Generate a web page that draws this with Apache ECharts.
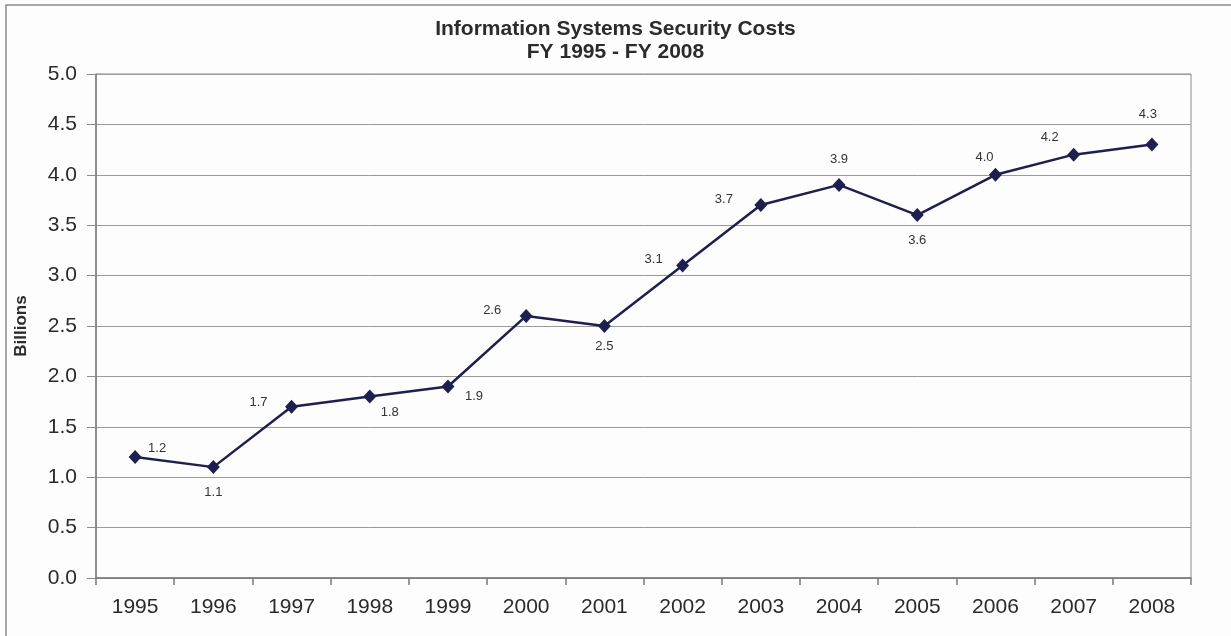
<!DOCTYPE html>
<html>
<head>
<meta charset="utf-8">
<title>Information Systems Security Costs</title>
<script src="https://cdn.jsdelivr.net/npm/echarts@6/dist/echarts.min.js"></script>
<style>
  html, body { margin: 0; padding: 0; background: #fdfdfd; }
  #chart { width: 1231px; height: 636px; }
</style>
</head>
<body>
<div id="chart"></div>
<script>
// Fiscal years and security costs (billions of dollars)
const years = ['1995', '1996', '1997', '1998', '1999', '2000', '2001',
               '2002', '2003', '2004', '2005', '2006', '2007', '2008'];
const costs = [1.2, 1.1, 1.7, 1.8, 1.9, 2.6, 2.5, 3.1, 3.7, 3.9, 3.6, 4.0, 4.2, 4.3];

// Where each value label sits relative to its marker, in pixels [dx, dy]
const labelOffsets = [
  [22, -9], [0, 25], [-33, -4], [20, 16], [26, 10], [-34, -5], [0, 20],
  [-29, -6], [-37, -6], [0, -25], [0, 25], [-11, -17], [-24, -17], [-4, -30]
];

const FONT = '"Liberation Sans", Arial, sans-serif';
const chart = echarts.init(document.getElementById('chart'), null, { renderer: 'canvas' });

chart.setOption({
  backgroundColor: '#fdfdfd',
  animation: false,
  title: {
    text: 'Information Systems Security Costs\nFY 1995 - FY 2008',
    left: 'center',
    top: 13,
    textStyle: {
      fontFamily: FONT,
      fontSize: 21,
      fontWeight: 'bold',
      color: '#2b2b2b',
      lineHeight: 23
    }
  },
  graphic: [{
    // outer frame around the chart (top and left edges visible)
    type: 'rect',
    shape: { x: 6, y: 5, width: 1240, height: 650 },
    style: { fill: null, stroke: '#8a8a8a', lineWidth: 1.5 },
    silent: true
  }],
  grid: {
    left: 96,
    right: 40,
    top: 74,
    bottom: 58,
    show: true,
    borderColor: '#8c8c8c',
    borderWidth: 1,
    backgroundColor: 'transparent'
  },
  xAxis: {
    type: 'category',
    data: years,
    boundaryGap: true,
    axisLine: { lineStyle: { color: '#7a7a7a', width: 1.5 } },
    axisTick: { show: true, length: 7, inside: false, alignWithLabel: false,
                lineStyle: { color: '#7a7a7a', width: 1.5 } },
    axisLabel: { fontFamily: FONT, fontSize: 21, color: '#2a2a2a', margin: 19 }
  },
  yAxis: {
    type: 'value',
    min: 0,
    max: 5,
    interval: 0.5,
    name: 'Billions',
    nameLocation: 'middle',
    nameGap: 66,
    nameRotate: 90,
    nameTextStyle: { fontFamily: FONT, fontSize: 17, fontWeight: 'bold', color: '#2a2a2a' },
    axisLine: { show: true, lineStyle: { color: '#7a7a7a', width: 1.5 } },
    axisTick: { show: true, length: 9, lineStyle: { color: '#8c8c8c' } },
    axisLabel: {
      fontFamily: FONT, fontSize: 21, color: '#2a2a2a', margin: 19,
      formatter: v => v.toFixed(1)
    },
    splitLine: { show: true, lineStyle: { color: '#9a9a9a', width: 1 } }
  },
  series: [{
    type: 'line',
    data: costs.map((v, i) => ({
      value: v,
      label: { offset: labelOffsets[i] }
    })),
    symbol: 'diamond',
    symbolSize: [13, 14],
    lineStyle: { color: '#1e1f4f', width: 2.5 },
    itemStyle: { color: '#1e1f4f' },
    label: {
      show: true,
      position: 'inside',
      fontFamily: FONT,
      fontSize: 13,
      color: '#333',
      formatter: p => p.value.toFixed(1)
    }
  }]
});
</script>
</body>
</html>
